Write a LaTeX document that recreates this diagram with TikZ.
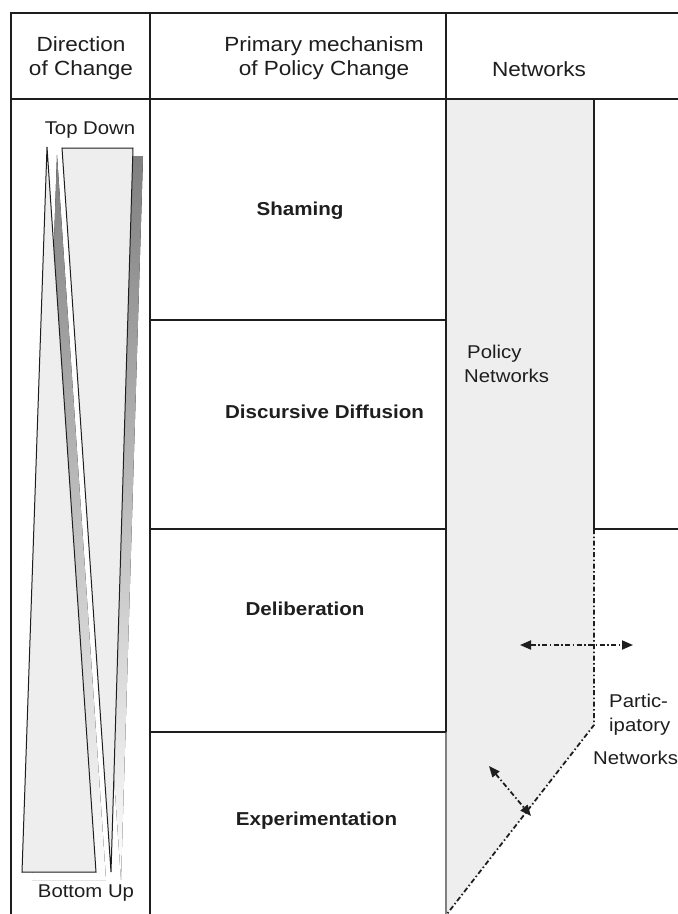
\documentclass[tikz,border=0pt]{standalone}
\usepackage{fontspec}
\setmainfont{Liberation Sans}[FakeStretch=1.1]
\usetikzlibrary{arrows.meta}
\definecolor{panel}{HTML}{EEEEEE}
\definecolor{shade}{HTML}{888888}
\definecolor{ink}{HTML}{1E1E1E}
\begin{document}
\begin{tikzpicture}[x=1pt, y=-1pt,
  rule/.style={line width=1.5pt, draw=ink},
  hrule/.style={line width=2pt, draw=ink},
  hdr/.style={font=\fontsize{20.5}{24}\selectfont, inner sep=0pt, align=center, text=ink},
  mech/.style={font=\bfseries\fontsize{18.7}{22}\selectfont, inner sep=0pt, text=ink},
  lbl/.style={font=\fontsize{18.5}{24}\selectfont, inner sep=0pt, align=left, text=ink},
  dd/.style={line width=1.8pt, draw=ink, dash pattern=on 5pt off 2.5pt on 1.5pt off 2.5pt},
  biarrow/.style={dd, {Triangle[length=11pt,width=9pt]}-{Triangle[length=11pt,width=9pt]}},
  wedge/.style={fill=panel, draw=ink, line width=1pt, line join=miter}]
\fill[white] (0,0) rectangle (678,914);
\useasboundingbox (0,0) rectangle (678,914);

% grey band of the policy networks
\fill[panel] (446,99) -- (594,99) -- (594,725) -- (447,914) -- (446,914) -- cycle;

% wedges with their shadows
\begin{scope}[shift={(10,8)}]
  \fill[shade] (47,147) -- (96,872) -- (22,872) -- cycle;
  \fill[shade] (62,148) -- (133,148) -- (111,872) -- cycle;
\end{scope}
\filldraw[wedge] (47,147) -- (96,872) -- (22,872) -- cycle;
\filldraw[wedge] (62,148) -- (133,148) -- (111,872) -- cycle;

% table rules
\draw[rule] (11,914) -- (11,13) -- (678,13);
\draw[rule] (150,13) -- (150,914);
\draw[rule] (446,13) -- (446,732);
\draw[line width=1.2pt, draw=black!50] (446,732) -- (446,914);
\draw[hrule] (11,99) -- (678,99);
\draw[rule] (150,320) -- (446,320);
\draw[rule] (150,529) -- (446,529);
\draw[rule] (150,732) -- (446,732);
\draw[rule] (594,99) -- (594,529) -- (678,529);
\draw[dd] (594,529) -- (594,725) -- (447,914);

% arrows
\coordinate (hL) at (520,645);
\coordinate (hR) at (633,645);
\draw[biarrow] (hL) -- (hR);
\coordinate (dA) at (489,766);
\coordinate (dB) at (531,816);
\draw[biarrow] (dA) -- (dB);

% texts
\node[hdr, anchor=north] (dir) at (81,36) {Direction\\of Change};
\node[hdr, anchor=north] (prim) at (324,36) {Primary mechanism\\of Policy Change};
\node[hdr, anchor=base] (net) at (539,76) {Networks};
\node[lbl, anchor=north] (td) at (90,122) {Top Down};
\node[lbl, anchor=base] (bu) at (86,897) {Bottom Up};
\node[mech, anchor=base] (sham) at (300,215) {Shaming};
\node[mech, anchor=base] (disc) at (324.5,418) {Discursive Diffusion};
\node[mech, anchor=base] (delib) at (305,615) {Deliberation};
\node[mech, anchor=base] (exper) at (316.5,825) {Experimentation};
\node[lbl, anchor=north west] (pol) at (464,345) {\hspace*{3pt}Policy\\Networks};
\node[lbl, anchor=north west] (part) at (609,694) {Partic-\\ipatory};
\node[lbl, anchor=base west] (pnet) at (593,764) {Networks};
\end{tikzpicture}
\end{document}
